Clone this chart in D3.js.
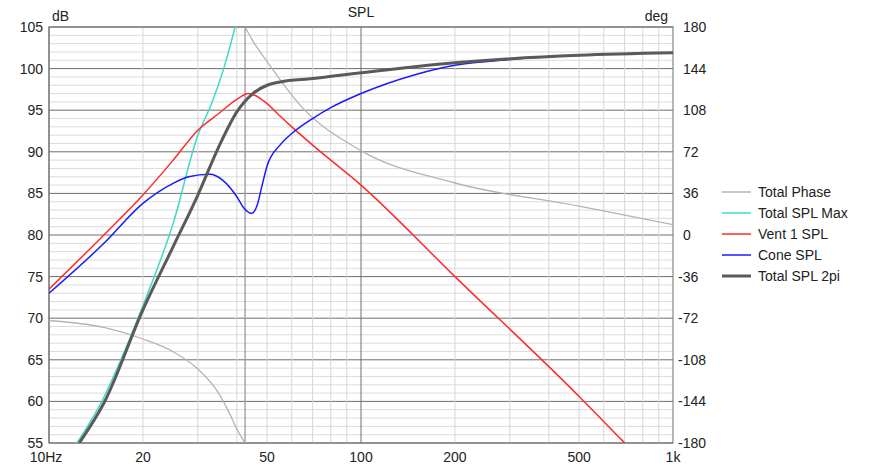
<!DOCTYPE html><html><head><meta charset="utf-8"><script src="https://cdn.jsdelivr.net/npm/d3@7"></script>
<style>body{margin:0;background:#fff}text{font-family:"Liberation Sans",Arial,sans-serif;font-size:14px;fill:#222}</style></head><body>
<svg id="c" width="878" height="470"></svg>
<script>
const ventF=[10,15,20,25,30,35,40,43.5,50,55,60,70,100,200,500,700];
const ventDb=[73.5,80,84.8,89,92.6,94.6,96.3,97,95.8,94.3,93,90.8,86,75,60.6,55];
const coneF=[10,15,20,25,28,32.8,36,40,42,44.6,46.5,48,50,55,60,70,80,100,150,200,300,500,1000];
const coneDb=[73,79,83.8,86.2,87,87.3,86.6,84.6,83.3,82.6,83.6,85.7,88.3,90.8,92.2,94,95.3,97,99.3,100.4,101.1,101.6,101.9];
const totF=[12.5,15,20,25,30,35,40,45,50,55,70,100,200,500,1000];
const totDb=[55,59.8,71,78.6,84.8,90.6,94.8,97,98,98.4,98.8,99.5,100.7,101.6,101.9];
const maxF=[12.3,15,17,20,25,30,33.2,36.3,39.5];
const maxDb=[55,60.5,65,71.5,81.4,92,95.8,100,105];
const phF=[10,15,20,25,30,35,38,40,42.5,42.5,45,50,64,100,200,500,1000];
const phDeg=[-74,-80,-90,-101,-116,-137,-155,-168,-180,180,168,150,112,73,45,25,9];
const yTicks=[55,60,65,70,75,80,85,90,95,100,105];
const degTicks=[-180,-144,-108,-72,-36,0,36,72,108,144,180];
const xTicks=[[10,"10Hz"],[20,"20"],[50,"50"],[100,"100"],[200,"200"],[500,"500"],[1000,"1k"]];
const L=49,R=673,T=27,B=443;
const svg=d3.select("#c");
const x=d3.scaleLog().domain([10,1000]).range([L,R]);
const y=d3.scaleLinear().domain([55,105]).range([B,T]);
const yd=d3.scaleLinear().domain([-180,180]).range([B,T]);
const g=svg.append("g");
for(let d=55;d<=105;d++) g.append("line").attr("x1",L).attr("x2",R).attr("y1",y(d)).attr("y2",y(d)).attr("stroke",d%5?"#dcdcdc":"#6e6e6e").attr("stroke-width",1);
for(let dec of [10,100]) for(let k=1;k<10;k++){const f=dec*k;g.append("line").attr("x1",x(f)).attr("x2",x(f)).attr("y1",T).attr("y2",B).attr("stroke",k==1?"#6e6e6e":"#d6d6d6");}
g.append("rect").attr("x",L).attr("y",T).attr("width",R-L).attr("height",B-T).attr("fill","none").attr("stroke","#6e6e6e");
svg.append("clipPath").attr("id","cp").append("rect").attr("x",L).attr("y",T).attr("width",R-L).attr("height",B-T);
const p=svg.append("g").attr("clip-path","url(#cp)");
const line=(fs,vs,sc)=>d3.line().curve(d3.curveMonotoneX).x((d,i)=>x(fs[i])).y((d,i)=>sc(vs[i]))(vs);
const ph1=phF.slice(0,9),pv1=phDeg.slice(0,9),ph2=phF.slice(9),pv2=phDeg.slice(9);
p.append("path").attr("d",line(ph1,pv1,yd)).attr("fill","none").attr("stroke","#b4b4b4").attr("stroke-width",1.3);
p.append("path").attr("d",line(ph2,pv2,yd)).attr("fill","none").attr("stroke","#b4b4b4").attr("stroke-width",1.3);
p.append("line").attr("x1",x(42.5)).attr("x2",x(42.5)).attr("y1",yd(-180)).attr("y2",yd(180)).attr("stroke","#9a9a9a").attr("stroke-width",1.3);
p.append("path").attr("d",line(maxF,maxDb,y)).attr("fill","none").attr("stroke","#40d8c8").attr("stroke-width",1.5);
p.append("path").attr("d",line(ventF,ventDb,y)).attr("fill","none").attr("stroke","#ff2a2a").attr("stroke-width",1.5);
p.append("path").attr("d",line(coneF,coneDb,y)).attr("fill","none").attr("stroke","#1a1aff").attr("stroke-width",1.5);
p.append("path").attr("d",line(totF,totDb,y)).attr("fill","none").attr("stroke","#5a5a5a").attr("stroke-width",3);
yTicks.forEach(v=>svg.append("text").attr("x",43).attr("y",y(v)+5).attr("text-anchor","end").text(v));
degTicks.forEach(v=>svg.append("text").attr("x",v<0?678:683).attr("y",yd(v)+5).text(v));
xTicks.forEach(([f,t],i)=>svg.append("text").attr("x",x(f)).attr("y",462).attr("text-anchor","middle").attr("dx",i==0?-3:0).text(t));
svg.append("text").attr("x",361).attr("y",17).attr("text-anchor","middle").text("SPL");
svg.append("text").attr("x",52).attr("y",21).text("dB");
svg.append("text").attr("x",668).attr("y",21).attr("text-anchor","end").text("deg");
const leg=[["Total Phase","#b4b4b4",1.5],["Total SPL Max","#40d8c8",1.5],["Vent 1 SPL","#ff2a2a",1.5],["Cone SPL","#1a1aff",1.5],["Total SPL 2pi","#5a5a5a",3]];
leg.forEach(([n,c,w],i)=>{const yy=192+i*21;svg.append("line").attr("x1",722).attr("x2",751).attr("y1",yy).attr("y2",yy).attr("stroke",c).attr("stroke-width",w);svg.append("text").attr("x",758).attr("y",yy+5).text(n);});
</script></body></html>
